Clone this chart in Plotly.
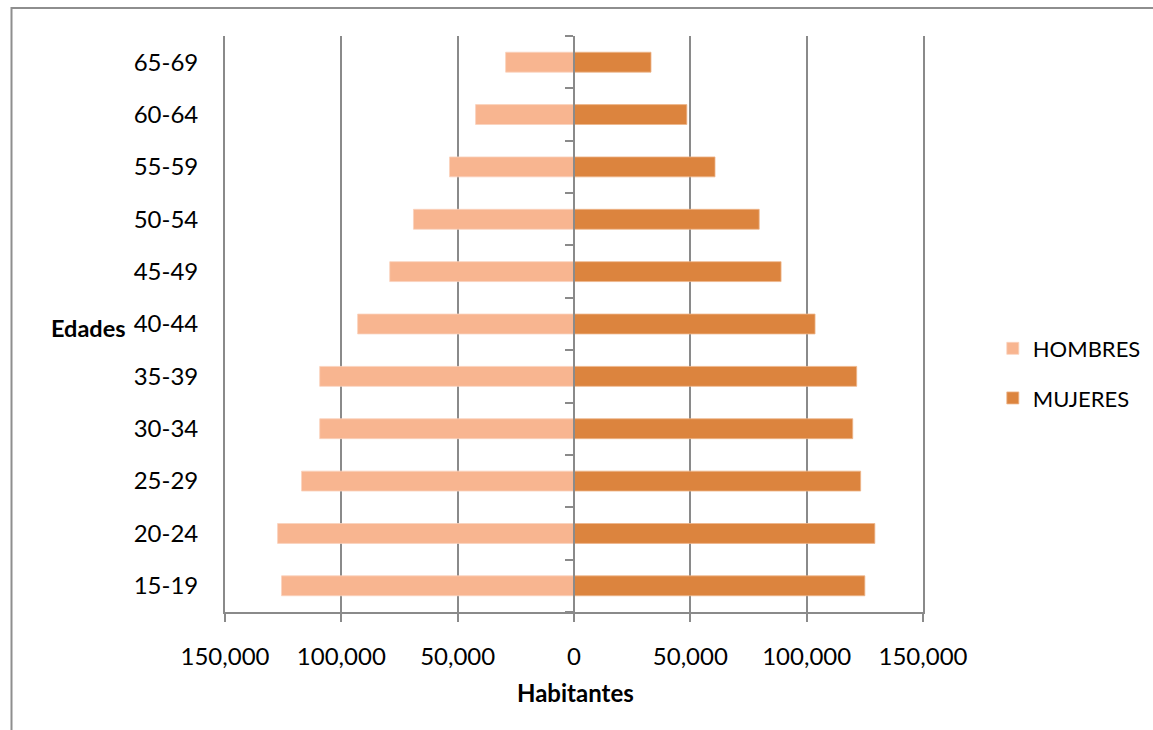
import plotly.graph_objects as go

# Age groups, bottom to top
edades = ["15-19", "20-24", "25-29", "30-34", "35-39", "40-44",
          "45-49", "50-54", "55-59", "60-64", "65-69"]
hombres = [125700, 127400, 117100, 109300, 109300, 93000,
           79200, 69000, 53500, 42300, 29400]
mujeres = [125000, 129300, 123200, 119800, 121500, 103600,
           89000, 79600, 60600, 48500, 33100]

x_ticks = [-150000, -100000, -50000, 0, 50000, 100000, 150000]
x_ticktext = ["150,000", "100,000", "50,000", "0", "50,000", "100,000", "150,000"]

FONT = "Lato, 'Open Sans', sans-serif"
GRID = "#8a8a8a"
C_H = "#F8B590"
C_M = "#DC843E"

pos = list(range(len(edades)))

fig = go.Figure()
fig.add_trace(go.Bar(
    y=pos, x=[-v for v in hombres], orientation="h", name="HOMBRES",
    marker=dict(color=C_H, line=dict(color="#FAD2BC", width=0.8)),
    customdata=hombres, hovertemplate="%{customdata:,}<extra>HOMBRES</extra>",
    legendgroup="h",
))
fig.add_trace(go.Bar(
    y=pos, x=mujeres, orientation="h", name="MUJERES",
    marker=dict(color=C_M, line=dict(color="#EDB58A", width=0.8)),
    hovertemplate="%{x:,}<extra>MUJERES</extra>",
    legendgroup="m",
))

fig.update_layout(
    width=1153, height=730,
    margin=dict(l=225, r=230, t=36, b=118, autoexpand=False),
    paper_bgcolor="white", plot_bgcolor="white",
    barmode="overlay", bargap=0.62,
    font=dict(family=FONT, size=23, color="black"),
    showlegend=True,
    legend=dict(x=1.1, xanchor="left", y=0.414, yanchor="middle",
                font=dict(family=FONT, size=22, color="black"),
                traceorder="grouped", tracegroupgap=18,
                bgcolor="rgba(0,0,0,0)"),
    xaxis=dict(
        range=[-150000, 150000], tickvals=x_ticks, ticktext=x_ticktext,
        showgrid=True, gridcolor=GRID, gridwidth=1.8, zeroline=False,
        showline=True, linecolor=GRID, linewidth=1.8,
        ticks="outside", ticklen=8, tickcolor=GRID, tickwidth=1.8,
        ticklabelstandoff=14, automargin=False,
        tickfont=dict(family=FONT, size=24, color="black"),
        fixedrange=True,
    ),
    yaxis=dict(
        range=[-0.5, len(edades) - 0.5], tickvals=pos, ticktext=edades,
        showgrid=False, zeroline=False,
        showline=True, mirror=True, linecolor=GRID, linewidth=1.8,
        ticks="", ticklabelstandoff=20, automargin=False,
        tickfont=dict(family=FONT, size=24, color="black"),
        fixedrange=True,
    ),
    # central axis with tick marks between age groups
    yaxis2=dict(
        overlaying="y", anchor="free", position=0.5, side="left",
        range=[-0.5, len(edades) - 0.5],
        tickvals=[k - 0.5 for k in range(len(edades) + 1)],
        showticklabels=False, showgrid=False, zeroline=False,
        showline=True, linecolor=GRID, linewidth=1.8,
        ticks="outside", ticklen=8, tickcolor=GRID, tickwidth=1.8,
        automargin=False, fixedrange=True,
    ),
    annotations=[
        dict(text="<b>Edades</b>", xref="paper", yref="paper",
             x=(88 - 225) / 698, y=(612 - 328) / 576,
             xanchor="center", yanchor="middle", showarrow=False,
             font=dict(family=FONT, size=23.5, color="black")),
        dict(text="<b>Habitantes</b>", xref="paper", yref="paper",
             x=(575 - 225) / 698, y=(612 - 692) / 576,
             xanchor="center", yanchor="middle", showarrow=False,
             font=dict(family=FONT, size=24, color="black")),
    ],
    shapes=[
        # chart frame
        dict(type="rect", xref="paper", yref="paper",
             x0=(11.5 - 225) / 698, y0=-1.0,
             x1=2.0, y1=(612 - 8) / 576,
             line=dict(color="#8e8e8e", width=2), layer="below"),
    ],
)

# dummy trace so the central axis is drawn
fig.add_trace(go.Scatter(x=[0], y=[0], yaxis="y2", mode="markers",
                         marker=dict(opacity=0), showlegend=False,
                         hoverinfo="skip"))

fig.write_html("out.html")
